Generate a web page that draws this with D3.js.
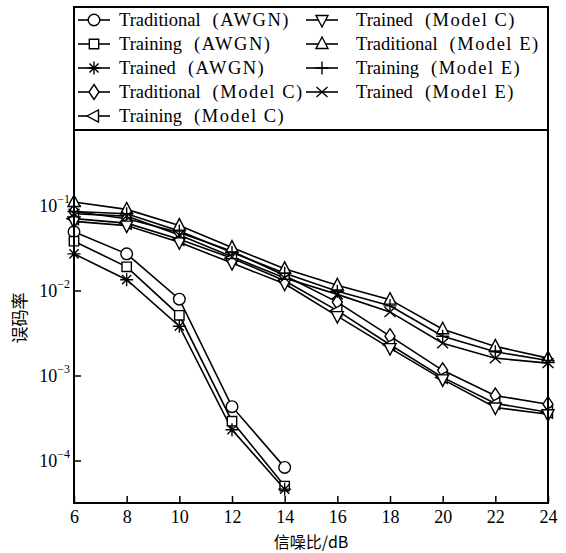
<!DOCTYPE html>
<html><head><meta charset="utf-8">
<script src="https://cdn.jsdelivr.net/npm/d3@7"></script>
<style>body{margin:0;background:#fff}svg{display:block}</style>
</head><body>
<script>
const snr = [6, 8, 10, 12, 14, 16, 18, 20, 22, 24];
const snrAwgn = [6, 8, 10, 12, 14];
const xTicks = [6, 8, 10, 12, 14, 16, 18, 20, 22, 24];
const yTickExps = [-1, -2, -3, -4];

const tradAwgn     = [0.049, 0.027, 0.0079, 0.00043, 0.000083];
const trainingAwgn = [0.038, 0.019, 0.0051, 0.00029, 0.000050];
const trainedAwgn  = [0.027, 0.0134, 0.0038, 0.00023, 0.000046];
const tradC        = [0.085, 0.070, 0.048, 0.029, 0.015, 0.0073, 0.0029, 0.00115, 0.00058, 0.00046];
const trainingC    = [0.070, 0.062, 0.040, 0.024, 0.013, 0.0058, 0.0023, 0.00095, 0.00047, 0.00037];
const trainedC     = [0.065, 0.058, 0.037, 0.021, 0.012, 0.0050, 0.0021, 0.00090, 0.00042, 0.00035];
const tradE        = [0.110, 0.090, 0.058, 0.032, 0.018, 0.0115, 0.0078, 0.0035, 0.0022, 0.0016];
const trainingE    = [0.085, 0.080, 0.050, 0.028, 0.016, 0.0098, 0.0066, 0.0029, 0.0019, 0.0015];
const trainedE     = [0.080, 0.075, 0.045, 0.025, 0.014, 0.0090, 0.0056, 0.0024, 0.0016, 0.0014];

const seriesMethod = ["Traditional","Training","Trained","Traditional","Training","Trained","Traditional","Training","Trained"];
const seriesChannel = ["AWGN","AWGN","AWGN","Model C","Model C","Model C","Model E","Model E","Model E"];
const seriesMarkers = ["circle","square","star","diamond","triLeft","triDown","triUp","plus","cross"];
const seriesX = [snrAwgn, snrAwgn, snrAwgn, snr, snr, snr, snr, snr, snr];
const seriesY = [tradAwgn, trainingAwgn, trainedAwgn, tradC, trainingC, trainedC, tradE, trainingE, trainedE];

const W = 566, H = 553;
const L = 74, R = 548, T = 7, B = 503, legB = 130;
const svg = d3.select("body").append("svg").attr("width", W).attr("height", H);
const serif = "'Liberation Serif','Times New Roman',serif";
const cjk = "'Noto Sans CJK SC',sans-serif";

const x = d3.scaleLinear().domain([6, 24]).range([L, R]);
const y = d3.scaleLog().domain([Math.pow(10, -4.5), 1]).range([B, B - 4.5 * 85]);

function markerPath(type, cx, cy) {
  const p = d3.path();
  if (type === "circle") { p.moveTo(cx + 5.8, cy); p.arc(cx, cy, 5.8, 0, 2 * Math.PI); }
  else if (type === "square") { p.rect(cx - 4.7, cy - 4.7, 9.4, 9.4); }
  else if (type === "diamond") { p.moveTo(cx, cy - 7.5); p.lineTo(cx + 5, cy); p.lineTo(cx, cy + 7.5); p.lineTo(cx - 5, cy); p.closePath(); }
  else if (type === "triUp") { p.moveTo(cx, cy - 7); p.lineTo(cx + 6, cy + 4.5); p.lineTo(cx - 6, cy + 4.5); p.closePath(); }
  else if (type === "triDown") { p.moveTo(cx, cy + 7); p.lineTo(cx + 6, cy - 4.5); p.lineTo(cx - 6, cy - 4.5); p.closePath(); }
  else if (type === "triLeft") { p.moveTo(cx - 7, cy); p.lineTo(cx + 4.5, cy - 6); p.lineTo(cx + 4.5, cy + 6); p.closePath(); }
  else if (type === "plus") { p.moveTo(cx - 6.5, cy); p.lineTo(cx + 6.5, cy); p.moveTo(cx, cy - 6.5); p.lineTo(cx, cy + 6.5); }
  else if (type === "cross") { p.moveTo(cx - 5.5, cy - 5); p.lineTo(cx + 5.5, cy + 5); p.moveTo(cx - 5.5, cy + 5); p.lineTo(cx + 5.5, cy - 5); }
  else if (type === "star") {
    p.moveTo(cx - 6.5, cy); p.lineTo(cx + 6.5, cy); p.moveTo(cx, cy - 6.5); p.lineTo(cx, cy + 6.5);
    p.moveTo(cx - 4.6, cy - 4.6); p.lineTo(cx + 4.6, cy + 4.6); p.moveTo(cx - 4.6, cy + 4.6); p.lineTo(cx + 4.6, cy - 4.6);
  }
  return p.toString();
}
const openMarker = t => ["plus", "cross", "star"].includes(t);

svg.append("rect").attr("x", L).attr("y", T).attr("width", R - L).attr("height", B - T).attr("fill", "#fff");

const xAxis = d3.axisBottom(x).tickValues(xTicks).tickSizeInner(-7).tickSizeOuter(0).tickPadding(7).tickFormat(d3.format("d"));
const gx = svg.append("g").attr("transform", `translate(0,${B})`).call(xAxis);
gx.select(".domain").remove();
gx.selectAll("line").attr("stroke", "#000").attr("stroke-width", 1.5);
gx.selectAll("text").attr("font-family", serif).attr("font-size", 18).attr("fill", "#000");

const yAxis = d3.axisLeft(y).tickValues(yTickExps.map(e => Math.pow(10, e))).tickSizeInner(-7).tickSizeOuter(0).tickPadding(6).tickFormat(() => "");
const gy = svg.append("g").attr("transform", `translate(${L},0)`).call(yAxis);
gy.select(".domain").remove();
gy.selectAll("line").attr("stroke", "#000").attr("stroke-width", 1.5);
gy.selectAll(".tick text").each(function(d) {
  const t = d3.select(this).attr("font-family", serif).attr("font-size", 18).attr("fill", "#000").attr("x", -4).attr("dy", "0.32em");
  t.append("tspan").text("10");
  t.append("tspan").attr("font-size", 12).attr("dy", "-0.75em").text("−" + (-Math.round(Math.log10(d))));
});

const lineGen = d3.line();
const gs = svg.append("g");
seriesY.forEach((vals, i) => {
  const pts = vals.map((v, j) => [x(seriesX[i][j]), y(v)]);
  gs.append("path").attr("d", lineGen(pts)).attr("fill", "none").attr("stroke", "#000").attr("stroke-width", 1.6);
});
seriesY.forEach((vals, i) => {
  vals.forEach((v, j) => {
    gs.append("path").attr("d", markerPath(seriesMarkers[i], x(seriesX[i][j]), y(v)))
      .attr("fill", openMarker(seriesMarkers[i]) ? "none" : "#fff").attr("stroke", "#000").attr("stroke-width", 1.4);
  });
});

// legend
svg.append("rect").attr("x", L).attr("y", T).attr("width", R - L).attr("height", legB - T)
  .attr("fill", "#fff").attr("stroke", "#000").attr("stroke-width", 2);
const colX = [{line: 78, text: 119}, {line: 306, text: 356}];
seriesMethod.forEach((m, i) => {
  const col = i < 5 ? 0 : 1, row = i < 5 ? i : i - 5;
  const cy = 20 + row * 24;
  const lx = colX[col].line;
  svg.append("line").attr("x1", lx).attr("x2", lx + 32).attr("y1", cy).attr("y2", cy).attr("stroke", "#000").attr("stroke-width", 1.6);
  svg.append("path").attr("d", markerPath(seriesMarkers[i], lx + 16, cy))
    .attr("fill", openMarker(seriesMarkers[i]) ? "none" : "#fff").attr("stroke", "#000").attr("stroke-width", 1.4);
  const t = svg.append("text").attr("x", colX[col].text).attr("y", cy + 6).attr("font-family", serif).attr("font-size", 18.5).attr("fill", "#000");
  t.append("tspan").text(m);
  t.append("tspan").attr("dx", 12).attr("letter-spacing", 1.5).text("(" + seriesChannel[i] + ")");
});

svg.append("rect").attr("x", L).attr("y", T).attr("width", R - L).attr("height", B - T)
  .attr("fill", "none").attr("stroke", "#000").attr("stroke-width", 2);

svg.append("text").attr("x", (L + R) / 2).attr("y", 548).attr("text-anchor", "middle")
  .attr("font-family", cjk).attr("font-size", 16).attr("fill", "#000").text("信噪比/dB");
svg.append("text").attr("transform", `translate(26,318) rotate(-90)`).attr("text-anchor", "middle")
  .attr("font-family", cjk).attr("font-size", 17).attr("fill", "#000").text("误码率");
</script>
</body></html>
